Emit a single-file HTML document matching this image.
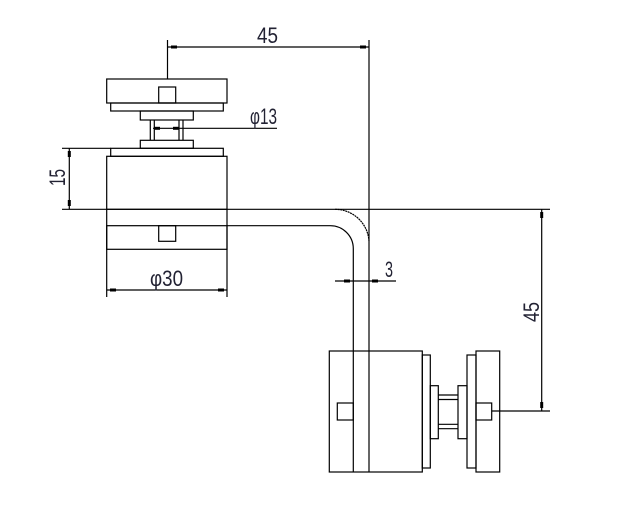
<!DOCTYPE html>
<html><head><style>html,body{margin:0;padding:0;background:#fff}svg{display:block}</style></head>
<body>
<svg width="624" height="508" viewBox="0 0 624 508" xmlns="http://www.w3.org/2000/svg">
<g fill="none" stroke="#000" stroke-width="1.2">
<line x1="167.5" y1="40" x2="167.5" y2="79"/>
<line x1="369" y1="40" x2="369" y2="472"/>
<line x1="167.5" y1="47" x2="369" y2="47"/>
<rect x="106.7" y="79" width="120.3" height="24"/>
<rect x="158.7" y="87" width="17" height="16"/>
<rect x="110.7" y="103" width="112.6" height="8"/>
<rect x="140.3" y="111" width="53" height="9"/>
<line x1="150.3" y1="120" x2="150.3" y2="140"/>
<line x1="154.3" y1="120" x2="154.3" y2="140"/>
<line x1="179" y1="120" x2="179" y2="140"/>
<line x1="183" y1="120" x2="183" y2="140"/>
<line x1="153" y1="128.3" x2="277" y2="128.3"/>
<rect x="140.3" y="140.3" width="53" height="8"/>
<rect x="110.7" y="148.3" width="112.6" height="8"/>
<rect x="106.7" y="156.3" width="120.3" height="53"/>
<line x1="62" y1="148.3" x2="110.7" y2="148.3"/>
<line x1="69.3" y1="148.3" x2="69.3" y2="209.3"/>
<line x1="62" y1="209.3" x2="550" y2="209.3"/>
<path d="M227 225.7 H330 A23 23 0 0 1 353.3 248.7 V472"/>
<path d="M335 209.3 A34 34 0 0 1 369 241" stroke-dasharray="2 0.6"/>
<rect x="106.7" y="225.7" width="120.3" height="23.6"/>
<rect x="158.7" y="225.7" width="17" height="15.6"/>
<line x1="106.7" y1="209.3" x2="106.7" y2="297"/>
<line x1="227" y1="209.3" x2="227" y2="297"/>
<line x1="106.7" y1="290" x2="227" y2="290"/>
<line x1="335" y1="281" x2="396" y2="281"/>
<rect x="329.3" y="351" width="93" height="121"/>
<rect x="337.3" y="403" width="16" height="17"/>
<rect x="422.3" y="355" width="8" height="113"/>
<rect x="430.3" y="385.7" width="8" height="53"/>
<line x1="438.3" y1="395" x2="458" y2="395"/>
<line x1="438.3" y1="399.5" x2="458" y2="399.5"/>
<line x1="438.3" y1="424.3" x2="458" y2="424.3"/>
<line x1="438.3" y1="428.7" x2="458" y2="428.7"/>
<rect x="458" y="385.7" width="9" height="53"/>
<rect x="467" y="355" width="9" height="113"/>
<rect x="476" y="351" width="23.7" height="121"/>
<rect x="476" y="403" width="15.7" height="17"/>
<line x1="491.7" y1="411" x2="550" y2="411"/>
<line x1="541.7" y1="209.3" x2="541.7" y2="411"/>
</g>
<g fill="#000">
<rect x="171" y="45.5" width="6" height="3"/><rect x="360" y="45.5" width="6" height="3"/>
<rect x="154" y="126.8" width="6" height="3"/><rect x="173" y="126.8" width="6" height="3"/>
<rect x="67.8" y="151" width="3" height="6"/><rect x="67.8" y="200" width="3" height="6"/>
<rect x="110" y="288.5" width="6" height="3"/><rect x="218" y="288.5" width="6" height="3"/>
<rect x="344" y="279.5" width="6" height="3"/><rect x="372" y="279.5" width="6" height="3"/>
<rect x="540.2" y="212" width="3" height="6"/><rect x="540.2" y="402" width="3" height="6"/>
</g>
<g font-family="Liberation Sans, sans-serif" font-size="22" fill="#223">
<text x="257" y="43" textLength="21" lengthAdjust="spacingAndGlyphs">45</text>
<text x="250" y="124" textLength="27" lengthAdjust="spacingAndGlyphs">φ13</text>
<text x="150" y="286" textLength="33" lengthAdjust="spacingAndGlyphs">φ30</text>
<text x="385" y="277" textLength="8" lengthAdjust="spacingAndGlyphs">3</text>
<text transform="translate(65,186) rotate(-90)" textLength="17" lengthAdjust="spacingAndGlyphs">15</text>
<text transform="translate(539,322) rotate(-90)" textLength="20" lengthAdjust="spacingAndGlyphs">45</text>
</g>
</svg>
</body></html>
